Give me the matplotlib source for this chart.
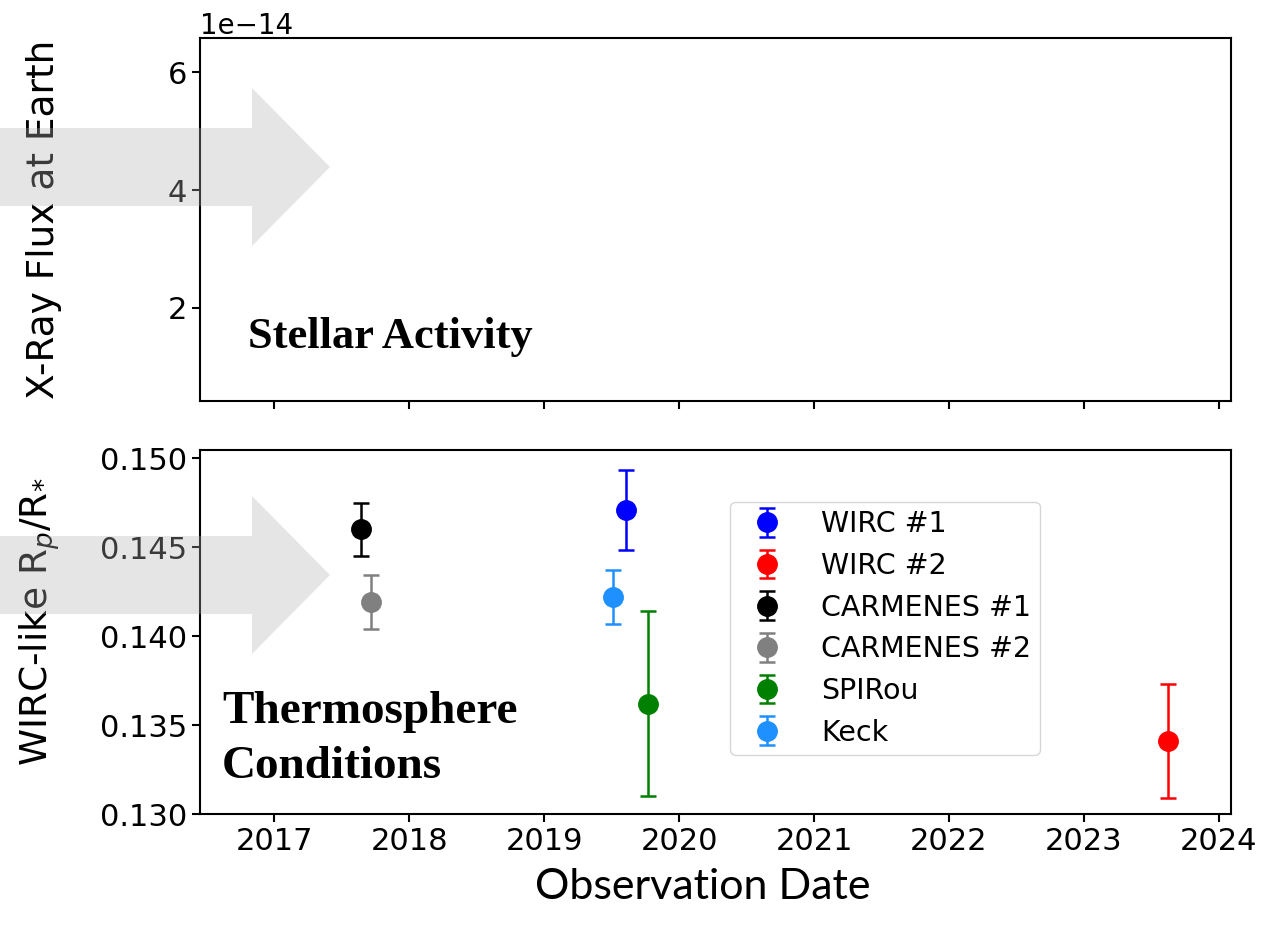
import numpy as np
import matplotlib
matplotlib.use('Agg')
import matplotlib.pyplot as plt
from matplotlib.patches import Polygon

# Observations (decimal year), WIRC-like Rp/R* and 1-sigma errors
labels = ['WIRC #1', 'WIRC #2', 'CARMENES #1', 'CARMENES #2', 'SPIRou', 'Keck']
colors = ['blue', 'red', 'black', 'grey', 'green', 'dodgerblue']
obs_dates = [2019.61, 2023.62, 2017.64, 2017.72, 2019.77, 2019.51]
rp_rs = [0.1471, 0.1341, 0.1460, 0.1419, 0.1362, 0.1422]
rp_err = [0.00225, 0.0032, 0.0015, 0.0015, 0.0052, 0.0015]

year_ticks = [2017, 2018, 2019, 2020, 2021, 2022, 2023, 2024]
flux_ticks = [2e-14, 4e-14, 6e-14]
rp_ticks = [0.130, 0.135, 0.140, 0.145, 0.150]

W, H = 1262, 930
fig = plt.figure(figsize=(W / 100, H / 100), dpi=100)

def px_axes(x0, y0, x1, y1):
    # axes box given in figure pixels (top-left origin)
    return fig.add_axes([x0 / W, 1 - y1 / H, (x1 - x0) / W, (y1 - y0) / H])

ax_top = px_axes(200, 38, 1231, 401)
ax_bot = px_axes(200, 450, 1231, 814)

for ax in (ax_top, ax_bot):
    for s in ax.spines.values():
        s.set_linewidth(1.5)
    ax.tick_params(labelsize=22, width=1.5, length=6)
    ax.set_xlim(2016.45, 2024.09)
    ax.set_xticks(year_ticks)

ax_top.tick_params(labelbottom=False)
ax_top.set_ylim(0.42e-14, 6.58e-14)
ax_top.set_yticks(flux_ticks)
ax_top.yaxis.get_offset_text().set_fontsize(20)
ax_top.set_ylabel('X-Ray Flux at Earth', fontsize=27)
ax_top.yaxis.set_label_coords(-0.134, 0.5)

for d, v, e, c, lab in zip(obs_dates, rp_rs, rp_err, colors, labels):
    ax_bot.errorbar(d, v, yerr=e, fmt='o', color=c, ms=14, elinewidth=1.8,
                    capsize=6, capthick=1.8, label=lab)

ax_bot.set_ylim(0.130, 0.15045)
ax_bot.set_yticks(rp_ticks)
ax_bot.set_xticklabels([str(y) for y in year_ticks])
ax_bot.set_ylabel(r'WIRC-like R$_p$/R$_{*}$', fontsize=27)
ax_bot.yaxis.set_label_coords(-0.134, 0.527)
ax_bot.legend(loc='upper left', bbox_to_anchor=(0.514, 0.858), borderaxespad=0,
              fontsize=20.5, handletextpad=0.9, borderpad=0.3, labelspacing=0.48)

fig.text(703 / W, 1 - 887 / H, 'Observation Date', fontsize=31, family='Lato',
         ha='center', va='center')

# panel annotations
fig.text(248 / W, 1 - 348 / H, 'Stellar Activity', fontsize=32,
         family='Liberation Serif', weight='bold', ha='left', va='baseline')
fig.text(222 / W, 1 - 723 / H, 'Thermosphere', fontsize=34,
         family='Liberation Serif', weight='bold', ha='left', va='baseline')
fig.text(222 / W, 1 - 778 / H, 'Conditions', fontsize=34,
         family='Liberation Serif', weight='bold', ha='left', va='baseline')

# translucent grey block arrows
def block_arrow(yc):
    pts = [(0, yc - 39), (252, yc - 39), (252, yc - 79), (330, yc),
           (252, yc + 79), (252, yc + 39), (0, yc + 39)]
    pts = [(x / W, 1 - y / H) for x, y in pts]
    fig.patches.append(Polygon(pts, closed=True, transform=fig.transFigure,
                               facecolor=(0.7, 0.7, 0.7), alpha=0.33,
                               edgecolor='none', zorder=10))

block_arrow(167)
block_arrow(575)

fig.savefig('out.png', dpi=100)
